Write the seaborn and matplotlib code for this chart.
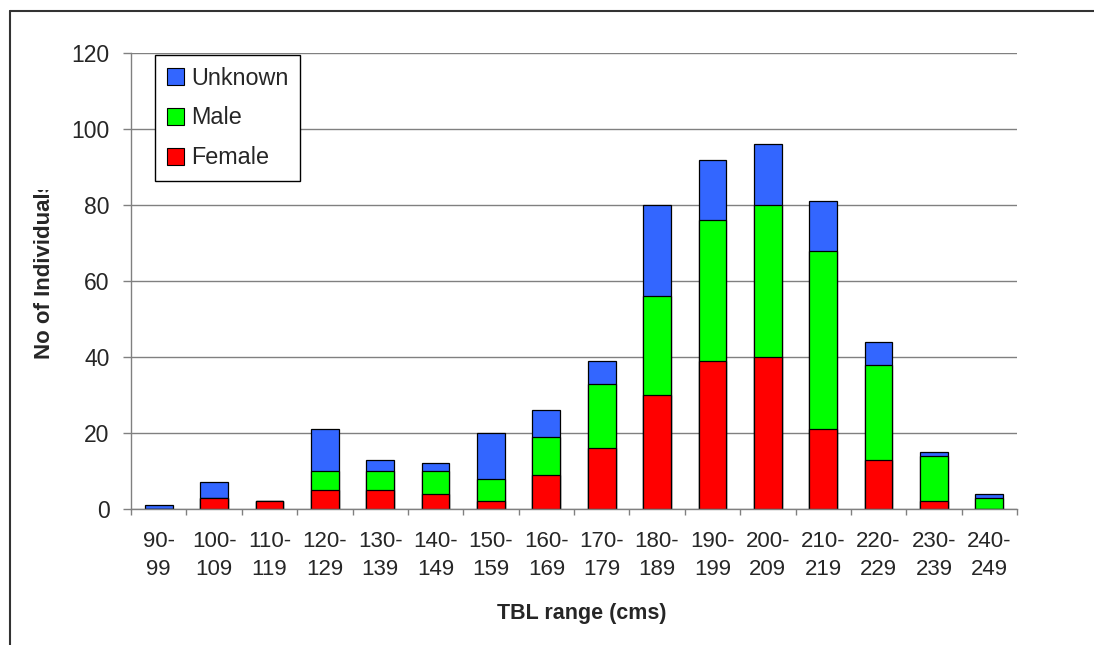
import matplotlib
matplotlib.use("Agg")
import matplotlib.pyplot as plt
import seaborn as sns
import pandas as pd
import numpy as np
from matplotlib.patches import Patch
from matplotlib.lines import Line2D
from matplotlib.transforms import Bbox, TransformedBbox

# Length classes (total body length, cm) and counts per sex
ranges = ["90-\n99", "100-\n109", "110-\n119", "120-\n129", "130-\n139", "140-\n149",
          "150-\n159", "160-\n169", "170-\n179", "180-\n189", "190-\n199", "200-\n209",
          "210-\n219", "220-\n229", "230-\n239", "240-\n249"]
female = [0, 3, 2, 5, 5, 4, 2, 9, 16, 30, 39, 40, 21, 13, 2, 0]
male = [0, 0, 0, 5, 5, 6, 6, 10, 17, 26, 37, 40, 47, 25, 12, 3]
unknown = [1, 4, 0, 11, 3, 2, 12, 7, 6, 24, 16, 16, 13, 6, 1, 1]

sns.set_style("ticks")
plt.rcParams['font.family'] = ['Liberation Sans', 'DejaVu Sans']

W, H = 1094, 645
fig = plt.figure(figsize=(W / 100, H / 100), dpi=100)
ax = fig.add_axes([131 / W, 1 - 509 / H, (1017 - 131) / W, (509 - 53.3) / H])

df = pd.DataFrame({"range": ranges, "Female": female, "Male": male, "Unknown": unknown})
df["male_top"] = df["Female"] + df["Male"]
df["unknown_top"] = df["male_top"] + df["Unknown"]

# Stacked bars: draw cumulative totals from the top layer down
layers = [("unknown_top", "#3366FF"), ("male_top", "#00FF00"), ("Female", "#FF0000")]
for col, color in layers:
    sns.barplot(data=df, x="range", y=col, order=ranges, color=color, saturation=1,
                width=0.5, edgecolor="black", linewidth=0.9, errorbar=None, ax=ax)

grid_gray = "#808080"
ax.set_ylim(0, 120)
ax.set_xlim(-0.5, len(ranges) - 0.5)
ax.set_yticks(np.arange(0, 121, 20))
ax.yaxis.grid(True, color=grid_gray, linewidth=1)
ax.set_axisbelow(True)

ax.set_xticks(np.arange(len(ranges)))
ax.set_xticklabels(ranges)
ax.set_xticks(np.arange(-0.5, len(ranges), 1), minor=True)
ax.tick_params(axis="x", which="major", length=0, pad=16, labelsize=16, bottom=True)
ax.tick_params(axis="x", which="minor", length=4.5, width=1, color=grid_gray, direction="out", bottom=True)
ax.tick_params(axis="y", length=6, width=1, color=grid_gray, pad=9.5, labelsize=16.5, left=True)
for lbl in ax.get_xticklabels():
    lbl.set_linespacing(1.42)

ax.set_xlabel("")
ax.set_ylabel("")
for side in ("top", "right"):
    ax.spines[side].set_visible(False)
for side in ("left", "bottom"):
    ax.spines[side].set_color(grid_gray)
    ax.spines[side].set_linewidth(1)

handles = [Patch(facecolor="#3366FF", edgecolor="black", linewidth=0.8, label="Unknown"),
           Patch(facecolor="#00FF00", edgecolor="black", linewidth=0.8, label="Male"),
           Patch(facecolor="#FF0000", edgecolor="black", linewidth=0.8, label="Female")]
leg = fig.legend(handles=handles, loc="upper left", bbox_to_anchor=(155 / W, 1 - 55 / H),
                 frameon=True, fancybox=False, edgecolor="black", framealpha=1,
                 fontsize=16.8, handlelength=0.75, handleheight=0.75, handletextpad=0.3,
                 labelspacing=0.72, borderpad=0.5, borderaxespad=0)
leg.get_frame().set_linewidth(1)

# Axis titles
fig.text(582 / W, 1 - 613 / H, "TBL range (cms)", ha="center", va="center",
         fontsize=15.5, fontweight="bold")
ylab = fig.text(45 / W, 1 - 359 / H, "No of Individuals", rotation=90, ha="center", va="bottom",
                fontsize=16, fontweight="bold")
ylab.set_clip_box(TransformedBbox(Bbox([[0, 0], [1.0, (H - 190) / 100]]), fig.dpi_scale_trans))
ylab.set_clip_on(True)

# Chart-area frame (top and left edges)
frame_kw = dict(transform=fig.transFigure, color="#333333", linewidth=1.5)
fig.add_artist(Line2D([9.5 / W, 1], [1 - 10.5 / H, 1 - 10.5 / H], **frame_kw))
fig.add_artist(Line2D([9.5 / W, 9.5 / W], [0, 1 - 10.5 / H], **frame_kw))

fig.savefig("out.png", dpi=100)
